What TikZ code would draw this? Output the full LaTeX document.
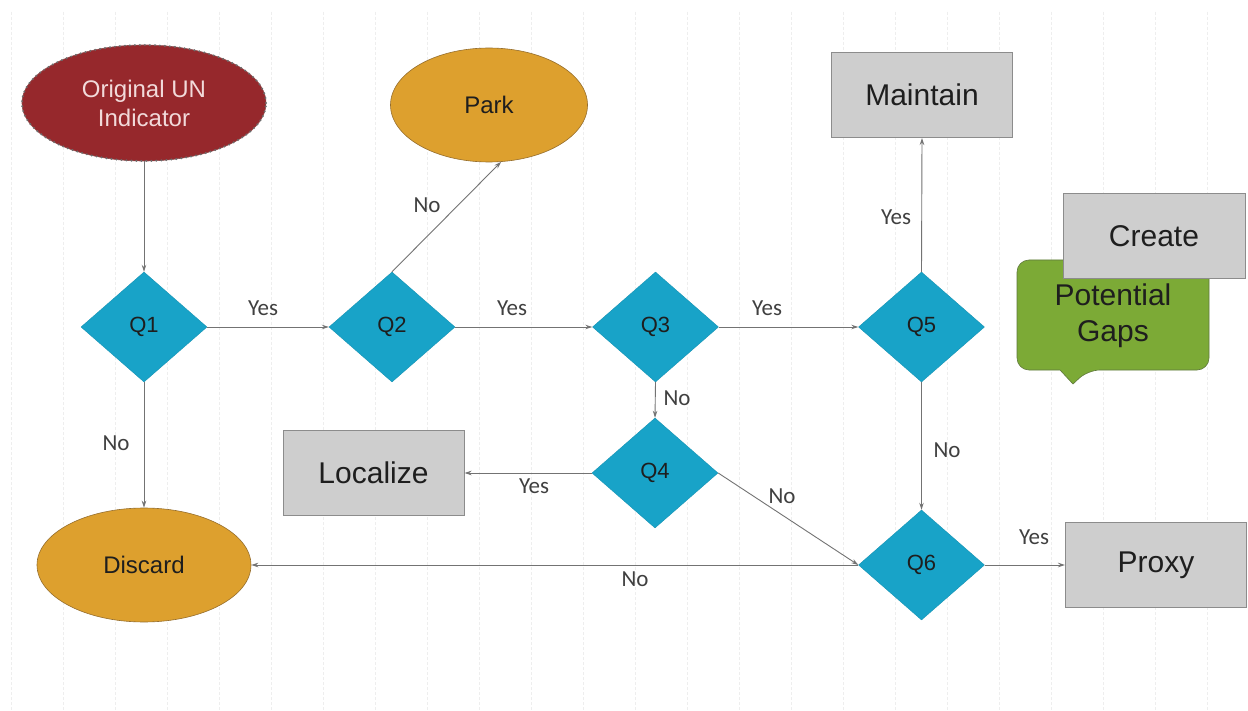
\documentclass[tikz,border=0pt]{standalone}
\usepackage{fontspec}
\setmainfont{Liberation Sans}
\newfontfamily\labfont{Carlito}
\usetikzlibrary{shapes.geometric,arrows.meta}
\definecolor{unred}{RGB}{150,40,44}
\definecolor{untext}{RGB}{242,218,218}
\definecolor{orng}{RGB}{221,160,46}
\definecolor{orngline}{RGB}{150,110,45}
\definecolor{qblue}{RGB}{24,163,200}
\definecolor{boxgray}{RGB}{206,206,206}
\definecolor{boxline}{RGB}{140,140,140}
\definecolor{gapgreen}{RGB}{124,170,54}
\definecolor{gapline}{RGB}{95,120,60}
\definecolor{conn}{RGB}{115,115,115}
\definecolor{gridc}{RGB}{238,238,238}
\definecolor{txt}{RGB}{30,30,30}
\tikzset{
  qnode/.style={diamond, fill=qblue, draw=qblue!90!black, line width=0.4pt, minimum width=126pt, minimum height=110pt, inner sep=0pt, text=txt, font=\fontsize{22}{25}\selectfont},
  ovalnode/.style={ellipse, fill=orng, draw=orngline, line width=0.6pt, inner sep=0pt, text=txt, font=\fontsize{24}{28}\selectfont},
  boxnode/.style={rectangle, fill=boxgray, draw=boxline, line width=1pt, minimum width=181pt, minimum height=85pt, inner sep=0pt, text=txt, font=\fontsize{30}{34}\selectfont},
  conn/.style={draw=conn, line width=0.9pt, -{Stealth[length=7pt,width=4.5pt]}},
  lbl/.style={font=\labfont\fontsize{23}{26}\selectfont, text=txt!85!white, inner sep=0pt}
}
\begin{document}
\begin{tikzpicture}[x=1pt,y=-1pt]
\useasboundingbox (0,0) rectangle (1248,711);
\fill[white] (0,0) rectangle (1248,711);
\foreach \k in {0,...,23} {
  \draw[gridc, line width=0.6pt, dash pattern=on 3pt off 2pt] ({11+52*\k},12) -- ({11+52*\k},711);
}
% nodes
\node[ellipse, fill=unred, draw=unred!60!gray, line width=0.6pt, minimum width=244pt, minimum height=116pt, inner sep=0pt, text=untext, align=center, font=\fontsize{24}{29}\selectfont] (orig) at (144,103) {Original UN\\Indicator};
\draw[gray!85!black, line width=2.2pt, dash pattern=on 0pt off 5pt, line cap=round] (orig) ellipse [x radius=122pt, y radius=58pt];
\node[ovalnode, minimum width=197pt, minimum height=114pt] (park) at (489,105) {Park};
\node[ovalnode, minimum width=214pt, minimum height=114pt] (discard) at (144,565) {Discard};
\node[qnode] (q1) at (144,327) {Q1};
\node[qnode] (q2) at (392,327) {Q2};
\node[qnode] (q3) at (655.5,327) {Q3};
\node[qnode] (q5) at (921.5,327) {Q5};
\node[qnode] (q4) at (655,473) {Q4};
\node[qnode] (q6) at (921.5,565) {Q6};
\node[boxnode] (maint) at (922,95) {Maintain};
\node[boxnode] (loc) at (373.5,473) {Localize};
\node[boxnode] (proxy) at (1156,565) {Proxy};
% callout
\draw[fill=gapgreen, draw=gapline, line width=0.6pt, rounded corners=12pt] (1060,370) -- (1017,370) -- (1017,260) -- (1209,260) -- (1209,370) -- (1088,370) [sharp corners] -- (1073,384) -- cycle;
\node[text=txt, align=center, font=\fontsize{30}{36}\selectfont] (gaps) at (1113,316) {Potential\\Gaps};
\node[boxnode, minimum width=182pt] (create) at (1154,236.5) {Create};
% connectors
\draw[conn] (orig.south) -- (q1.north);
\draw[conn] (q1.east) -- (q2.west);
\draw[conn] (q2.north) -- (park.-78);
\draw[conn] (q2.east) -- (q3.west);
\draw[conn] (q3.east) -- (q5.west);
\draw[conn] (q5.north) -- (maint.south);
\draw[conn] (q1.south) -- (discard.north);
\draw[conn] (q3.south) -- (q4.north);
\draw[conn] (q4.west) -- (loc.east);
\draw[conn] (q4.east) -- (q6.west);
\draw[conn] (q5.south) -- (q6.north);
\draw[conn] (q6.west) -- (discard.east);
\draw[conn] (q6.east) -- (proxy.west);
% labels
\node[lbl] (l1) at (263,308) {Yes};
\node[lbl] (l2) at (427,205) {No};
\node[lbl] (l3) at (512,308) {Yes};
\node[lbl] (l4) at (767,308) {Yes};
\node[lbl] (l5) at (896,217) {Yes};
\node[lbl] (l6) at (116,443) {No};
\node[lbl] (l7) at (677,398) {No};
\node[lbl] (l8) at (534,486) {Yes};
\node[lbl] (l9) at (782,496) {No};
\node[lbl] (l10) at (947,450) {No};
\node[lbl] (l11) at (635,579) {No};
\node[lbl] (l12) at (1034,537) {Yes};
\end{tikzpicture}
\end{document}
